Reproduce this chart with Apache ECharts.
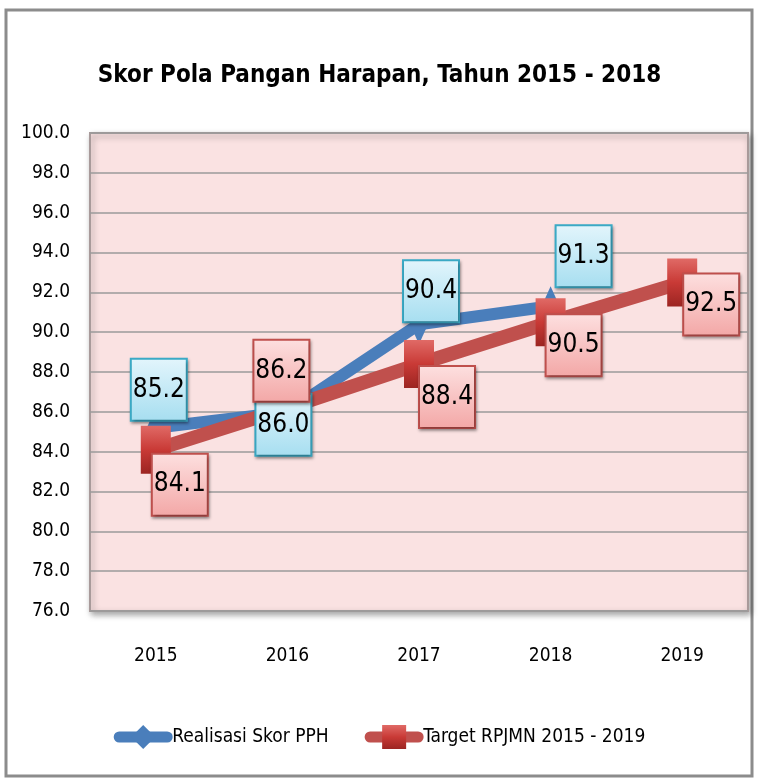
<!DOCTYPE html>
<html>
<head>
<meta charset="utf-8">
<script src="https://cdn.jsdelivr.net/npm/echarts@6/dist/echarts.min.js"></script>
<style>
  html, body { margin: 0; padding: 0; background: #fff; }
  #chart { width: 759px; height: 782px; }
</style>
</head>
<body>
<div id="chart"></div>
<script>
// data
var years = ["2015", "2016", "2017", "2018", "2019"];
var realisasi = [85.2, 86.0, 90.4, 91.3, null];
var target = [84.1, 86.2, 88.4, 90.5, 92.5];
var yTicks = { min: 76, max: 100, step: 2 };

// label offsets (pixels) so the boxes sit where the original puts them
var realisasiOffsets = [[3, -38], [-4, 13], [12, -33], [33, -50], [0, 0]];
var targetOffsets = [[24, 35], [-6, -37], [28, 33], [23, 23], [29, 22]];

var FONT = '"DejaVu Sans Condensed", "Liberation Sans Narrow", sans-serif';

var myChart = echarts.init(document.getElementById("chart"));

function boxLabel(fill1, fill2, border) {
  return {
    show: true,
    position: "inside",
    formatter: function (p) { return p.value.toFixed(1); },
    fontFamily: FONT,
    fontSize: 26,
    color: "#000",
    width: 54,
    height: 60,
    lineHeight: 60,
    align: "center",
    verticalAlign: "middle",
    backgroundColor: new echarts.graphic.LinearGradient(0, 0, 0, 1, [
      { offset: 0, color: fill1 },
      { offset: 1, color: fill2 }
    ]),
    borderColor: border,
    borderWidth: 2,
    shadowColor: "rgba(0,0,0,0.35)",
    shadowBlur: 3,
    shadowOffsetX: 1,
    shadowOffsetY: 2
  };
}

function buildData(values, offsets) {
  return values.map(function (v, i) {
    if (v === null) return null;
    return { value: v, label: { offset: offsets[i] } };
  });
}

var option = {
  animation: false,
  graphic: [
    {
      type: "rect",
      shape: { x: 6, y: 10, width: 746, height: 766 },
      style: { fill: "none", stroke: "#8c8c8c", lineWidth: 3 },
      z: -10
    }
  ],
  title: {
    text: "Skor Pola Pangan Harapan, Tahun 2015 - 2018",
    left: "center",
    top: 59,
    textStyle: {
      fontFamily: FONT,
      fontWeight: "bold",
      fontSize: 24,
      color: "#000"
    }
  },
  grid: {
    left: 90,
    right: 11,
    top: 133,
    bottom: 171,
    show: true,
    backgroundColor: "#fae2e2",
    borderColor: "#a89a9a",
    borderWidth: 2,
    shadowColor: "rgba(0,0,0,0.35)",
    shadowBlur: 6,
    shadowOffsetX: 2,
    shadowOffsetY: 3
  },
  legend: {
    top: 720,
    left: "center",
    itemWidth: 48,
    itemHeight: 30,
    itemGap: 36,
    lineStyle: { width: 11, cap: "round" },
    textStyle: { fontFamily: FONT, fontSize: 19, color: "#000" },
    data: ["Realisasi Skor PPH", "Target RPJMN 2015 - 2019"]
  },
  xAxis: {
    type: "category",
    data: years,
    boundaryGap: true,
    axisLine: { show: false },
    axisTick: { show: false },
    axisLabel: {
      margin: 36,
      fontFamily: FONT,
      fontSize: 19,
      color: "#000"
    }
  },
  yAxis: {
    type: "value",
    min: yTicks.min,
    max: yTicks.max,
    interval: yTicks.step,
    axisLine: { show: false },
    axisTick: { show: false },
    axisLabel: {
      margin: 20,
      fontFamily: FONT,
      fontSize: 19,
      color: "#000",
      formatter: function (v) { return v.toFixed(1); }
    },
    splitLine: { lineStyle: { color: "#9a9a9a", width: 1.5 } }
  },
  series: [
    {
      name: "Realisasi Skor PPH",
      type: "line",
      data: buildData(realisasi, realisasiOffsets),
      symbol: "diamond",
      symbolSize: [18, 40],
      lineStyle: { width: 12, color: "#4a7ebb" },
      itemStyle: { color: "#4a7ebb" },
      label: boxLabel("#e3f5fc", "#a6def0", "#3aaac6")
    },
    {
      name: "Target RPJMN 2015 - 2019",
      type: "line",
      data: buildData(target, targetOffsets),
      symbol: "rect",
      symbolSize: [30, 48],
      lineStyle: { width: 14, color: "#c0504d" },
      itemStyle: {
        color: new echarts.graphic.LinearGradient(0, 0, 0, 1, [
          { offset: 0, color: "#e06a66" },
          { offset: 0.5, color: "#c93a36" },
          { offset: 1, color: "#9c2522" }
        ])
      },
      label: boxLabel("#fde0e0", "#f3a7a6", "#c0504d")
    }
  ]
};

option && myChart.setOption(option);
</script>
</body>
</html>
